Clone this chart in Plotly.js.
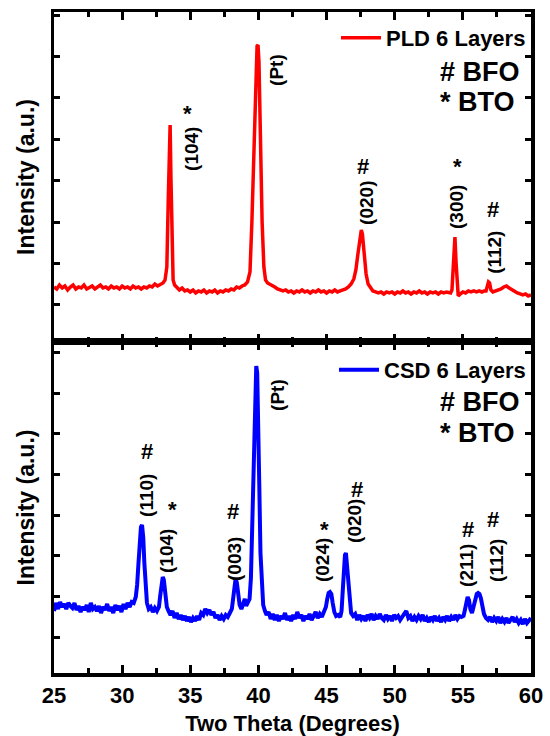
<!DOCTYPE html>
<html>
<head>
<meta charset="utf-8">
<script src="https://cdn.plot.ly/plotly-3.0.1.min.js"></script>
<style>html,body{margin:0;padding:0;background:#fff;}#chart{width:550px;height:736px;}</style>
</head>
<body>
<div id="chart"></div>
<script>
// ---------- Data ----------
// PLD 6 Layers (top panel), intensity in arbitrary units
const pldTheta = [25.0,25.2,25.4,25.6,25.8,26.0,26.2,26.4,26.6,26.8,27.0,27.2,27.4,27.6,27.8,28.0,28.2,28.4,28.6,28.8,29.0,29.2,29.4,29.6,29.8,30.0,30.2,30.4,30.6,30.8,31.0,31.2,31.4,31.6,31.8,32.0,32.2,32.4,32.6,32.8,33.0,33.15,33.28,33.38,33.46,33.52,33.58,33.65,33.74,33.85,34.0,34.2,34.4,34.6,34.8,35.0,35.2,35.4,35.6,35.8,36.0,36.2,36.4,36.6,36.8,37.0,37.2,37.4,37.6,37.8,38.0,38.2,38.4,38.6,38.8,39.0,39.2,39.38,39.52,39.68,39.8,39.9,39.97,40.04,40.14,40.27,40.4,40.52,40.67,40.82,41.0,41.2,41.4,41.6,41.8,42.0,42.2,42.4,42.6,42.8,43.0,43.2,43.4,43.6,43.8,44.0,44.2,44.4,44.6,44.8,45.0,45.2,45.4,45.6,45.8,46.0,46.2,46.4,46.6,46.8,47.0,47.15,47.3,47.45,47.55,47.63,47.75,47.9,48.05,48.25,48.4,48.6,48.8,49.0,49.2,49.4,49.6,49.8,50.0,50.2,50.4,50.6,50.8,51.0,51.2,51.4,51.6,51.8,52.0,52.2,52.4,52.6,52.8,53.0,53.2,53.4,53.6,53.8,54.0,54.1,54.2,54.28,54.36,54.42,54.5,54.58,54.66,54.8,55.0,55.2,55.4,55.6,55.8,56.0,56.2,56.4,56.55,56.7,56.8,56.88,56.96,57.06,57.2,57.4,57.6,57.8,58.0,58.2,58.4,58.6,58.8,59.0,59.2,59.4,59.6,59.8,60.0];
const pldIntensity = [55,53,57,54,56,52,55,57,53,55,54,57,53,55,56,53,55,57,54,55,53,56,54,55,53,56,54,55,53,56,54,55,53,55,54,56,55,58,56,58,59,62,75,140,212,217,165,90,62,57,55,52,54,51,52,50,52,49,51,50,52,49,51,50,52,49,51,50,52,51,53,52,55,54,56,57,60,70,120,200,270,296,297,280,210,120,75,62,59,58,56,55,53,52,51,52,50,51,49,51,50,52,50,51,49,51,50,52,50,51,49,51,50,52,50,51,52,53,55,58,63,72,88,106,112,108,88,68,58,53,51,50,49,50,48,50,49,50,48,50,49,51,49,50,48,50,49,51,49,50,48,50,49,50,48,50,49,50,49,49,52,72,102,105,80,55,46,48,50,49,51,50,51,50,51,50,51,51,56,60,59,52,50,51,52,53,55,56,54,52,50,49,48,47,48,46,47,46];

// CSD 6 Layers (bottom panel), intensity in arbitrary units
const csdTheta = [25.0,25.15,25.3,25.45,25.6,25.75,25.9,26.05,26.2,26.35,26.5,26.65,26.8,26.95,27.1,27.25,27.4,27.55,27.7,27.85,28.0,28.15,28.3,28.45,28.6,28.75,28.9,29.05,29.2,29.35,29.5,29.65,29.8,29.95,30.1,30.25,30.4,30.55,30.7,30.85,31.0,31.1,31.2,31.3,31.38,31.46,31.55,31.63,31.72,31.82,31.95,32.1,32.25,32.4,32.55,32.7,32.8,32.9,32.98,33.06,33.15,33.28,33.4,33.55,33.7,33.85,34.0,34.15,34.3,34.45,34.6,34.75,34.9,35.05,35.2,35.35,35.5,35.65,35.8,35.95,36.1,36.25,36.4,36.55,36.7,36.85,37.0,37.15,37.3,37.45,37.6,37.75,37.9,38.05,38.15,38.25,38.33,38.42,38.52,38.62,38.75,38.88,39.0,39.1,39.22,39.35,39.45,39.55,39.65,39.75,39.84,39.91,39.98,40.06,40.15,40.25,40.35,40.48,40.6,40.75,40.9,41.05,41.2,41.35,41.5,41.65,41.8,41.95,42.1,42.25,42.4,42.55,42.7,42.85,43.0,43.15,43.3,43.45,43.6,43.75,43.9,44.05,44.2,44.35,44.5,44.65,44.8,44.95,45.05,45.15,45.25,45.35,45.45,45.57,45.7,45.85,46.0,46.1,46.2,46.28,46.35,46.42,46.48,46.55,46.62,46.7,46.8,46.95,47.1,47.25,47.4,47.55,47.7,47.85,48.0,48.15,48.3,48.45,48.6,48.75,48.9,49.05,49.2,49.35,49.5,49.65,49.8,49.95,50.1,50.25,50.4,50.55,50.7,50.85,51.0,51.15,51.3,51.45,51.6,51.75,51.9,52.05,52.2,52.35,52.5,52.65,52.8,52.95,53.1,53.25,53.4,53.55,53.7,53.85,54.0,54.15,54.3,54.45,54.6,54.75,54.9,55.05,55.15,55.25,55.35,55.45,55.55,55.67,55.8,55.92,56.02,56.12,56.22,56.32,56.42,56.55,56.7,56.85,57.0,57.15,57.3,57.45,57.6,57.75,57.9,58.05,58.2,58.35,58.5,58.65,58.8,58.95,59.1,59.25,59.4,59.55,59.7,59.85,60.0];
const csdIntensity = [62,70,64,71,66,69,64,70,67,65,70,63,67,61,66,63,68,61,70,64,66,62,67,60,66,63,69,62,66,60,68,63,67,61,69,64,70,66,71,70,76,88,110,135,146,148,135,110,85,70,64,66,61,65,62,66,78,92,96,93,80,66,62,58,62,55,60,54,58,53,57,52,56,51,55,52,57,53,60,58,64,60,63,58,61,55,58,53,57,54,58,56,60,64,75,90,95,90,76,68,64,68,74,67,70,74,95,150,220,285,307,300,260,190,120,85,68,62,58,61,54,59,53,58,52,57,54,60,53,57,52,58,54,61,55,58,52,57,54,59,53,57,61,55,59,56,62,66,74,80,81,79,70,61,57,58,56,62,85,108,118,120,110,100,85,70,60,57,59,53,58,54,57,52,58,55,59,53,57,54,59,55,53,58,54,57,52,58,55,57,53,56,59,62,55,57,52,56,53,57,54,58,52,55,51,56,53,57,52,55,51,56,53,57,52,56,53,58,54,57,56,57,63,71,76,73,64,60,66,74,79,80,79,75,66,59,55,53,56,51,55,52,56,50,54,51,55,50,53,56,51,54,50,53,49,54,50,53,55,62];

const seriesNames = ['PLD 6 Layers', 'CSD 6 Layers'];
const xTickLabels = ['25','30','35','40','45','50','55','60'];
const xTickValues = [25,30,35,40,45,50,55,60];

// ---------- Styling ----------
const FONT = 'Liberation Sans, Arial, Helvetica, sans-serif';
const black = '#000000';

function peakLabel(text, x, y, xr, yr) {
  return {text: text, x: x, y: y, xref: xr, yref: yr, showarrow: false, textangle: -90,
    xanchor: 'center', yanchor: 'middle',
    font: {family: FONT, size: 19, color: black, weight: 700}};
}
function phaseMark(text, x, y, xr, yr) {
  return {text: text, x: x, y: y, xref: xr, yref: yr, showarrow: false,
    xanchor: 'center', yanchor: 'middle',
    font: {family: FONT, size: 22, color: black, weight: 700}};
}
function keyText(text, x, y) {
  return {text: text, x: x, y: y, xref: 'paper', yref: 'paper', showarrow: false,
    xanchor: 'left', yanchor: 'middle',
    font: {family: FONT, size: 27, color: black, weight: 700}};
}

const traces = [
  {x: pldTheta, y: pldIntensity, xaxis: 'x2', yaxis: 'y2', type: 'scatter', mode: 'lines',
   name: seriesNames[0], legend: 'legend', line: {color: '#ff0000', width: 3.5}},
  {x: csdTheta, y: csdIntensity, xaxis: 'x', yaxis: 'y', type: 'scatter', mode: 'lines',
   name: seriesNames[1], legend: 'legend2', line: {color: '#0000ff', width: 4}}
];

const split = 0.5008;
const xCommon = {
  range: [25, 60], showline: true, linecolor: black, linewidth: 3.5, mirror: 'ticks',
  ticks: 'inside', ticklen: 8, tickwidth: 3, tickcolor: black,
  tickmode: 'array', tickvals: xTickValues, ticktext: xTickLabels,
  minor: {ticks: 'inside', dtick: 2.5, tick0: 25, ticklen: 5, tickwidth: 3, tickcolor: black, showgrid: false},
  showgrid: false, zeroline: false, fixedrange: true
};
const yCommon = {
  showline: true, linecolor: black, linewidth: 3.5, mirror: 'ticks',
  ticks: 'inside', ticklen: 6, tickwidth: 3, tickcolor: black,
  showticklabels: false, showgrid: false, zeroline: false, tickmode: 'linear', fixedrange: true
};
const yTitleFont = {family: FONT, size: 23, color: black, weight: 700};
const legendFont = {family: FONT, size: 22, color: black, weight: 700};

const layout = {
  width: 550, height: 736,
  margin: {l: 54, r: 19, t: 12, b: 63},
  paper_bgcolor: '#ffffff', plot_bgcolor: '#ffffff',
  font: {family: FONT, color: black},
  xaxis: Object.assign({}, xCommon, {domain: [0, 1], anchor: 'y',
    tickfont: {family: FONT, size: 22, color: black, weight: 700},
    title: {text: 'Two Theta (Degrees)', font: {family: FONT, size: 22, color: black, weight: 700}, standoff: 14}}),
  xaxis2: Object.assign({}, xCommon, {domain: [0, 1], anchor: 'y2', showticklabels: false}),
  yaxis: Object.assign({}, yCommon, {domain: [0, split], anchor: 'x', range: [0, 331], tick0: 36, dtick: 40.6,
    title: {text: 'Intensity (a.u.)', font: yTitleFont, standoff: 10}}),
  yaxis2: Object.assign({}, yCommon, {domain: [split, 1], anchor: 'x2', range: [0, 330], tick0: 37, dtick: 41.4,
    title: {text: 'Intensity (a.u.)', font: yTitleFont, standoff: 10}}),
  legend: {x: 1, xanchor: 'right', y: 0.9607, yanchor: 'middle', bgcolor: 'rgba(0,0,0,0)', borderwidth: 0,
    itemwidth: 40, font: legendFont},
  legend2: {x: 1, xanchor: 'right', y: 0.4584, yanchor: 'middle', bgcolor: 'rgba(0,0,0,0)', borderwidth: 0,
    itemwidth: 40, font: legendFont},
  showlegend: true,
  annotations: [
    // top panel
    peakLabel('(104)', 35.12, 193, 'x2', 'y2'), phaseMark('*', 34.83, 228, 'x2', 'y2'),
    peakLabel('(Pt)', 41.36, 272, 'x2', 'y2'),
    peakLabel('(020)', 47.96, 139, 'x2', 'y2'), phaseMark('#', 47.67, 175, 'x2', 'y2'),
    peakLabel('(300)', 54.57, 135, 'x2', 'y2'), phaseMark('*', 54.57, 175, 'x2', 'y2'),
    peakLabel('(112)', 57.35, 90, 'x2', 'y2'), phaseMark('#', 57.21, 132, 'x2', 'y2'),
    keyText('# BFO', 0.805, 0.9092), keyText('* BTO', 0.805, 0.8638),
    // bottom panel
    peakLabel('(110)', 31.82, 178, 'x', 'y'), phaseMark('#', 31.82, 221, 'x', 'y'),
    peakLabel('(104)', 33.29, 122, 'x', 'y'), phaseMark('*', 33.66, 163, 'x', 'y'),
    peakLabel('(003)', 38.28, 114, 'x', 'y'), phaseMark('#', 38.13, 161, 'x', 'y'),
    peakLabel('(Pt)', 41.43, 278, 'x', 'y'),
    peakLabel('(024)', 44.74, 113, 'x', 'y'), phaseMark('*', 44.88, 143, 'x', 'y'),
    peakLabel('(020)', 47.08, 152, 'x', 'y'), phaseMark('#', 47.23, 183, 'x', 'y'),
    peakLabel('(211)', 55.30, 108, 'x', 'y'), phaseMark('#', 55.37, 143, 'x', 'y'),
    peakLabel('(112)', 57.50, 113, 'x', 'y'), phaseMark('#', 57.21, 153, 'x', 'y'),
    keyText('# BFO', 0.805, 0.41), keyText('* BTO', 0.805, 0.3631)
  ]
};

Plotly.newPlot('chart', traces, layout, {displayModeBar: false, staticPlot: true});
</script>
</body>
</html>
